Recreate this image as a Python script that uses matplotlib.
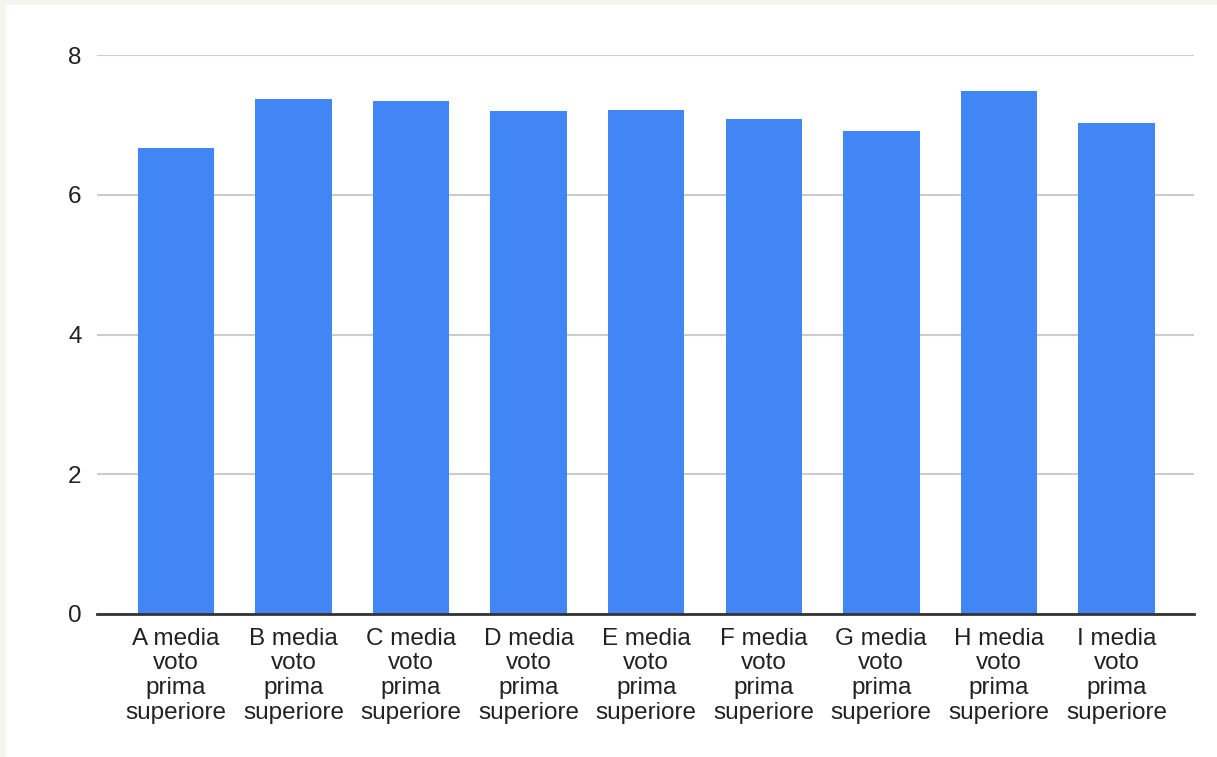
import matplotlib.pyplot as plt
import numpy as np

# Category labels and mean values
categories = ['A', 'B', 'C', 'D', 'E', 'F', 'G', 'H', 'I']
values = [6.67, 7.37, 7.34, 7.20, 7.22, 7.08, 6.91, 7.49, 7.02]
tick_labels = [f'{c} media\nvoto\nprima\nsuperiore' for c in categories]
y_ticks = [0, 2, 4, 6, 8]

plt.rcParams['font.family'] = ['Liberation Sans', 'DejaVu Sans']

fig = plt.figure(figsize=(12.17, 7.57), dpi=100)
fig.patch.set_facecolor('#f4f5ee')

# white slide panel behind the chart
panel = plt.Rectangle((6 / 1217, 0), 1, 1 - 5 / 757,
                      transform=fig.transFigure, color='white', zorder=-10)
fig.patches.append(panel)

ax = fig.add_axes([97 / 1217, 1 - 614 / 757, (1194 - 97) / 1217, (614 - 55) / 757])
ax.set_facecolor('white')

x = np.arange(len(categories))
ax.bar(x, values, width=0.65, color='#4285f4', zorder=3)

ax.set_xlim(-0.672, 8.66)
ax.set_ylim(0, 8)
ax.set_yticks(y_ticks)
ax.set_yticklabels([str(t) for t in y_ticks], fontsize=17.5, color='#222222')
ax.set_xticks(x)
ax.set_xticklabels(tick_labels, fontsize=17.5, color='#222222', linespacing=1.15, va='top')
ax.tick_params(axis='both', length=0)
ax.tick_params(axis='y', pad=11)
ax.tick_params(axis='x', pad=10)

ax.grid(axis='y', color='#cccccc', linewidth=1.5, zorder=0)
for side in ['top', 'right', 'left']:
    ax.spines[side].set_visible(False)
ax.spines['bottom'].set_color('#333333')
ax.spines['bottom'].set_linewidth(2)
ax.spines['bottom'].set_zorder(4)

plt.savefig('out.png', dpi=100, facecolor=fig.get_facecolor())
